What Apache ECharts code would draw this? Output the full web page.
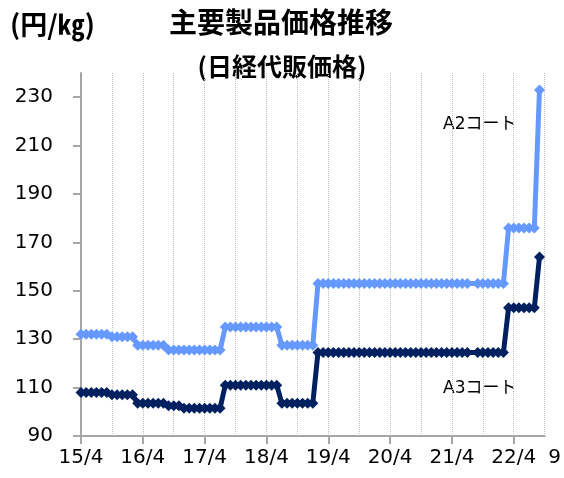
<!DOCTYPE html>
<html><head><meta charset="utf-8">
<script src="https://cdn.jsdelivr.net/npm/echarts@6/dist/echarts.min.js"></script>
<style>html,body{margin:0;padding:0;background:#fff}#c{width:564px;height:478px}</style>
</head><body><div id="c"></div>
<script>
// month offsets from 2015/4 where axis labels sit
const tickLabels = ['15/4','16/4','17/4','18/4','19/4','20/4','21/4','22/4','9'];
const tickMonths = [0,12,24,36,48,60,72,84,90];
const yTicks = [90,110,130,150,170,190,210,230];
const a2Name = 'A2コート';
const a3Name = 'A3コート';
// monthly prices, 2015/4 .. 2022/9 (円/kg)
const a2Values = [
  132,132,132,132,132,132,
  131,131,131,131,131,
  127.5,127.5,127.5,127.5,127.5,127.5,
  125.5,125.5,125.5,125.5,125.5,125.5,125.5,125.5,125.5,125.5,125.5,
  135,135,135,135,135,135,135,135,135,135,135,
  127.5,127.5,127.5,127.5,127.5,127.5,127.5,
  153,153,153,153,153,153,153,153,153,153,153,153,153,153,153,153,153,153,153,153,153,153,153,153,153,153,153,153,153,153,
  null,
  153,153,153,153,153,153,
  176,176,176,176,176,176,
  233
];
const a3Values = [
  108,108,108,108,108,108,
  107,107,107,107,107,
  103.5,103.5,103.5,103.5,103.5,103.5,
  102.5,102.5,102.5,
  101.5,101.5,101.5,101.5,101.5,101.5,101.5,101.5,
  111,111,111,111,111,111,111,111,111,111,111,
  103.5,103.5,103.5,103.5,103.5,103.5,103.5,
  124.5,124.5,124.5,124.5,124.5,124.5,124.5,124.5,124.5,124.5,124.5,124.5,124.5,124.5,124.5,124.5,124.5,124.5,124.5,124.5,124.5,124.5,124.5,124.5,124.5,124.5,124.5,124.5,124.5,124.5,
  null,
  124.5,124.5,124.5,124.5,124.5,124.5,
  143,143,143,143,143,143,
  164
];

const chart = echarts.init(document.getElementById('c'), null, {renderer:'canvas'});
const toPts = arr => arr.map((v,i) => [i, v]);
const latin = "'DejaVu Sans','Noto Sans CJK JP',sans-serif";
const cjk = "'Noto Sans CJK JP',sans-serif";
const axisGrey = '#a6a6a6';

chart.setOption({
  animation: false,
  backgroundColor: '#ffffff',
  grid: {left:81, right:19, top:73, bottom:42, containLabel:false},
  xAxis: [{
    type:'value', min:0, max:90,
    axisLine:{show:true, onZero:false, lineStyle:{color:axisGrey, width:2}},
    axisTick:{show:true, length:8, customValues:tickMonths.slice(0,8), lineStyle:{color:axisGrey, width:2}},
    axisLabel:{
      customValues:tickMonths, color:'#000', fontSize:20, fontFamily:latin, margin:12,
      formatter: v => { const i = tickMonths.indexOf(v); return i === tickLabels.length-1 ? '{r|'+tickLabels[i]+'}' : tickLabels[i]; },
      rich:{r:{fontSize:20, fontFamily:latin, color:'#000', padding:[0,0,0,20]}}
    },
    splitLine:{show:false}
  },{
    type:'value', min:0, max:90, interval:6, position:'bottom',
    axisLine:{show:false}, axisTick:{show:false}, axisLabel:{show:false},
    splitLine:{show:true, lineStyle:{type:'dotted', color:'#bfbfbf', width:1}}
  }],
  yAxis: {
    type:'value', min:90, max:240,
    axisLine:{show:true, lineStyle:{color:axisGrey, width:2}},
    axisTick:{show:true, length:8, customValues:yTicks, lineStyle:{color:axisGrey, width:2}},
    axisLabel:{customValues:yTicks, color:'#000', fontSize:20, fontFamily:latin, margin:28},
    splitLine:{show:false}
  },
  series: [{
    name:a2Name, type:'line', xAxisIndex:0, data:toPts(a2Values), connectNulls:true,
    symbol:'diamond', symbolSize:11, showAllSymbol:true,
    lineStyle:{color:'#6699ff', width:5}, itemStyle:{color:'#6699ff'}
  },{
    name:a3Name, type:'line', xAxisIndex:0, data:toPts(a3Values), connectNulls:true,
    symbol:'diamond', symbolSize:11, showAllSymbol:true,
    lineStyle:{color:'#002060', width:5}, itemStyle:{color:'#002060'}
  }],
  graphic: [
    {type:'text', x:10, y:25, style:{text:'(円/㎏)', font:"bold 27px "+cjk, fill:'#000', textVerticalAlign:'middle'}},
    {type:'text', x:281, y:22, style:{text:'主要製品価格推移', font:"bold 28px "+cjk, fill:'#000', textAlign:'center', textVerticalAlign:'middle'}},
    {type:'text', x:282, y:66, style:{text:'(日経代販価格)', font:"bold 25px "+cjk, fill:'#000', textAlign:'center', textVerticalAlign:'middle'}},
    {type:'text', x:443, y:125, style:{text:a2Name, font:"17px "+latin, fill:'#000', textVerticalAlign:'middle'}},
    {type:'text', x:443, y:389, style:{text:a3Name, font:"17px "+latin, fill:'#000', textVerticalAlign:'middle'}}
  ]
});
</script></body></html>
